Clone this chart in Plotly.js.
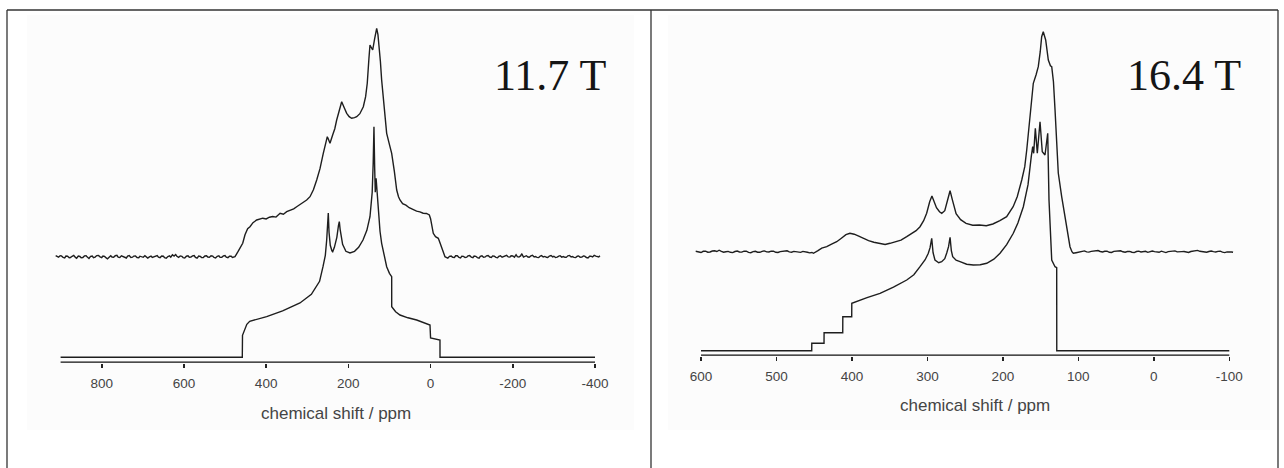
<!DOCTYPE html>
<html><head><meta charset="utf-8">
<script src="https://cdn.plot.ly/plotly-3.0.1.min.js"></script>
<style>html,body{margin:0;padding:0;background:#fff}#chart{width:1284px;height:468px}</style>
</head><body><div id="chart"></div>
<script>
// ---------------- DATA ----------------
// 11.7 T panel
const leftTicks = [800, 600, 400, 200, 0, -200, -400];
const leftSimPpm = [900,458,457.5,452,447,440,420,398.7,360,317.7,290,277,270,261.7,256,252.7,250.5,248.8,247,244,240,238,234,228,224,222,220,214,206,196,185,175,164.4,155,147.4,142,139.5,137.7,136,134.5,132.5,131,127,123,119,112,106.8,100,94.6,94.5,85,74.4,55,33.8,15,1.4,0,-22.9,-23,-400];
const leftSimInt = [0,0,22,28,33,36,38.5,40.6,46.5,54.3,63,70.6,76,90.6,102,117.3,135,144.3,125,112,106.5,105.6,110,120,132,135.6,128,113,106,104.3,106,110,117.3,127,140.6,165,195,230.6,190,165,179,170,145,126,114,100,90.6,84,80.6,50.6,45.5,42.3,39.5,37.3,34.5,32.3,19.3,17.3,0,0];
const leftExpPpm = [912,908,905,901,898,894,890,887,883,879,876,872,868,864,861,857,853,850,846,842,838,835,831,827,823,820,816,812,808,804,800,797,793,789,786,782,778,775,771,767,763,760,756,752,748,744,740,737,733,729,725,722,718,714,710,707,703,699,695,692,688,684,680,677,673,669,665,662,658,654,650,647,643,639,635,632,628,624,620,617,613,609,605,602,598,594,590,587,583,579,575,572,568,564,560,557,553,549,545,542,538,534,530,527,523,519,515,512,508,504,500,497,493,489,485,482,478,
  475.8,468.5,462,457,451.4,445,439.3,432,423,415,408,400,392,384,376,366,358,350,340,333,325.7,318,310,301.4,293.3,285,277,269,261,256,251.2,248,244.7,238,233,228.4,222,216.2,210,204,198,191.9,185,179.7,172,163.6,158,154,150,147.4,144,140.8,136,131.1,128,125.5,122,119,113,106.8,100,94.6,88,82.4,78,74.4,68,60,52,42,34,26,18,10,3,0,-3,-6.6,-12,-18.8,-22,-28,-35,
  -38,-42,-46,-50,-54,-58,-61,-65,-69,-73,-76,-80,-84,-88,-91,-95,-99,-103,-106,-110,-114,-118,-121,-125,-129,-133,-136,-140,-144,-148,-151,-155,-159,-163,-166,-170,-174,-178,-181,-185,-189,-193,-196,-200,-204,-208,-211,-215,-219,-222,-226,-230,-233,-237,-240,-244,-248,-252,-255,-259,-263,-267,-270,-274,-278,-282,-285,-289,-293,-297,-300,-304,-308,-312,-315,-319,-323,-327,-330,-334,-338,-342,-345,-349,-353,-357,-360,-364,-368,-372,-375,-379,-383,-387,-390,-394,-398,-402,-405,-409,-412];
const leftExpInt = [1,-0.3,-0.5,0.9,0.8,-0.6,-1.2,0.7,0.5,-1.0,-0.8,0.4,1.3,-0.7,-1.5,0.6,0.2,-1.1,-0.9,0.8,1.0,-0.4,-1.8,0.3,0.6,-0.9,-0.4,1.1,1.2,-0.2,-1.0,0.7,0.3,-1.2,-2.2,-0.5,0.9,-0.3,-0.6,1.0,1.4,-0.4,-0.8,0.9,0.4,-0.7,-1.3,0.5,1.1,-0.8,-0.5,0.6,0.7,-0.9,-1.1,0.5,0.2,-0.6,1.0,0.3,-1.4,-0.2,0.6,-0.8,-0.3,0.9,1.2,-0.4,-0.9,0.7,0.5,-1.0,-1.6,0.2,0.8,-0.5,1.9,0.6,2.2,0.4,-0.7,0.8,0.4,-0.9,-1.2,0.5,0.9,-0.6,-0.4,0.8,1.1,-0.7,-1.5,0.6,0.3,-0.9,-0.8,0.7,1.0,-0.3,-0.5,0.9,0.6,-0.8,-1.3,0.4,0.9,-0.7,-0.6,0.8,1.2,-0.4,-0.9,0.5,0.4,-0.8,-0.3,
  0,5,10,13.4,22,28,30,34,36.7,37.5,38.5,37.8,39.5,40.2,39.6,43.4,42.5,45,46.5,47.8,50,52,54.5,56.7,60,67,76.7,88,103.4,111,120,117,113.4,122,128,136.7,148,155,149,143.4,140,138.4,139,140,143,150,160,173.4,198,211.7,209,206.7,218,228.4,222,211.7,195,176.7,148,123.4,112,103.4,85,66.7,60,56.7,53,51.5,49,46.7,45.5,44.8,43.5,43.2,41.7,38,30,23.4,20,18.4,15,8,0,
  -0.6,-1.5,0.4,0.6,-0.7,-0.8,0.9,1.0,-0.6,-1.2,0.5,0.3,-0.8,-0.5,0.9,1.1,-0.4,-0.9,0.7,0.4,-0.9,-1.4,0.3,0.8,-0.6,-0.2,0.9,1.2,-0.3,-0.7,0.8,0.5,-0.6,-1.1,0.4,0.9,-0.5,0.1,1.0,1.3,-0.2,-0.4,0.9,0.7,-0.5,2.0,0.1,-0.3,0.8,3.0,-0.4,0.2,1.0,-0.3,-0.6,0.8,1.4,-0.2,0.2,-0.7,-0.9,0.6,1.1,-0.3,0.3,-0.6,-0.8,0.7,1.2,-0.2,0.4,-0.8,-0.5,0.6,1.0,-0.4,0.2,-0.6,-0.7,0.9,1.3,-0.3,0.1,-0.7,-0.9,0.5,0.8,-0.6,-0.4,0.7,0.6,-0.8,-1.2,0.4,0.5,-0.2,1.3,0.6,0.4,-0.3,1.0];

// 16.4 T panel
const rightTicks = [600, 500, 400, 300, 200, 100, 0, -100];
const rightSimPpm = [600,453.3,453.2,437,436.9,412.2,412.1,400.3,400.2,390,380,362.8,345,327.4,318,309.8,303,298.8,296.5,294.3,292.5,290,285,281.1,277,274.4,272,270,268.3,266.5,262,256.8,248,239.2,230,221.4,212,203.8,195,186.2,180,172.9,166.7,162.4,160.5,159.2,157,154.4,150.8,147.8,144.2,140.6,138.9,135.3,130.9,128.7,128.6,-100];
const rightSimInt = [0,0,7.4,7.4,18,18,34,34,47.4,50.5,53,57.4,63.5,70.7,76,84,91,97.4,103,112.4,98,90.7,88,89,92,97.7,104,113.4,100,94,90.5,89,86.5,85.7,86,87.4,91.5,97.4,106,117.4,128,144,166,194,204,197.4,222.4,197.4,229,199,195.7,217.4,150.7,90.7,84,83,0,0];
const rightExpPpm = [607,603,600,597,594,591,588,585,582,579,576,573,570,567,564,561,558,555,552,549,546,543,540,537,534,531,528,525,522,519,516,513,510,507,504,501,498,495,492,489,486,483,480,477,474,471,468,465,462,459,456,453,451,448,
  445,440,433.4,427,420.2,414,408,402.6,397,391,385,378,371,362.8,356,349.6,342,335,327.4,320,315,309.8,305,301,297,294,291,288,284,281,277,273,270,267,264,262,256,248.8,240,231,222,213.3,204,195,186.4,181,175,171,168.4,165,161.8,159.7,156,153.1,150.5,148.6,146.5,143.3,139.8,137,135.3,133,130.9,128.8,126.6,122.1,120,117.8,115.5,113,111.1,108.5,106.7,103,100,97.8,
  95,92,89,86,83,80,77,74,71,68,65,62,59,56,53,50,47,44,41,38,35,32,29,26,23,20,17,14,11,8,5,2,-1,-4,-7,-10,-13,-16,-19,-22,-25,-28,-31,-34,-37,-40,-43,-46,-49,-52,-55,-58,-61,-64,-67,-70,-73,-76,-79,-82,-85,-88,-91,-94,-97,-100,-103,-105];
const rightExpInt = [0.5,-0.2,-0.8,0.4,0.6,-0.5,-0.3,0.7,0.9,0.2,1.5,0.3,-0.5,-0.1,0.3,-0.6,-0.9,0.2,0.7,-0.3,-0.4,0.6,0.5,-0.7,-1.0,0.1,0.4,-0.5,-0.6,0.4,0.8,-0.2,-0.3,0.5,0.6,-0.6,-0.8,0.1,0.3,0.6,0.9,-0.2,-0.5,0.3,0.2,-0.4,-0.7,0.3,0.1,-0.6,-1.2,-0.8,-1.6,-0.5,
  1.0,3.5,5,7.5,10,13.5,17,18.4,17.5,15.5,13.4,11,9.5,8.4,7.2,8.4,10,11.5,15,18.5,21,25,31,38.4,50,55.7,50,44,40,38.4,41,52,61,52,43,38,32,28.4,26.5,26.7,26,27.7,31,35,45,55,71.7,85,101.7,128,151.7,168.4,177,185,200,215,220,211.7,191.7,186,185,170,141.7,110,78.7,55,45,35,25,14,5,0,-1.6,-1.0,-0.3,0,
  0.6,0.8,-0.2,-0.4,0.3,0.6,0.9,1.2,0.2,-0.3,0.4,0.5,-0.6,-0.8,0.3,0.4,0.6,0.9,-0.1,-0.5,0.2,0.3,-0.5,-0.9,0.2,0.6,-0.3,0.1,0.4,-0.6,-0.2,0.7,0.1,-0.2,-0.6,0.5,-0.3,-0.9,0.1,0.4,0.6,0.8,-0.2,-0.4,0.1,0.2,-0.5,-0.8,0.2,0.6,0.9,1.3,0.4,0.2,-0.3,-0.5,0.2,0.7,0.1,-0.3,0.3,0.5,-0.4,-0.9,-0.2,0.1,-0.3,-0.6];

const xTitle = "chemical shift / ppm";
const leftLabel = "11.7 T";
const rightLabel = "16.4 T";

// ---------------- LAYOUT GEOMETRY ----------------
const W = 1284, H = 468;
const fx = p => p / W, fy = p => 1 - p / H;
const lin = (p0, v0, p1, v1) => p => v0 + (p - p0) * (v1 - v0) / (p1 - p0);
const leftPpmAt = lin(60.6, 900, 595, -400);
const rightPpmAt = lin(701, 600, 1229.3, -100);
const LD = [50, 608], RD = [690, 1245];
const LAX = 362.7, RAX = 355.7;           // pixel rows of the axis lines
const L_SIM = 5.4, L_EXP = 106;           // vertical offsets (stacking)
const R_SIM = 5, R_EXP = 104;

const add = (arr, o) => arr.map(v => v + o);
const lineStyle = {color: '#1e1e1e', width: 1.4};

const traces = [
  {x: leftExpPpm, y: add(leftExpInt, L_EXP), xaxis: 'x', yaxis: 'y', mode: 'lines', line: lineStyle, hoverinfo: 'skip'},
  {x: leftSimPpm, y: add(leftSimInt, L_SIM), xaxis: 'x', yaxis: 'y', mode: 'lines', line: lineStyle, hoverinfo: 'skip'},
  {x: rightExpPpm, y: add(rightExpInt, R_EXP), xaxis: 'x2', yaxis: 'y2', mode: 'lines', line: lineStyle, hoverinfo: 'skip'},
  {x: rightSimPpm, y: add(rightSimInt, R_SIM), xaxis: 'x2', yaxis: 'y2', mode: 'lines', line: lineStyle, hoverinfo: 'skip'}
];

const tickFont = {family: 'Liberation Sans, Arial, sans-serif', size: 13.5, color: '#444'};
const xCommon = {ticks: 'outside', ticklen: 4, tickwidth: 1.6, tickcolor: '#222', showline: false, zeroline: false,
  showgrid: false, tickfont: tickFont, tickmode: 'array', fixedrange: true, ticklabelstandoff: 4};

const layout = {
  width: W, height: H, margin: {l: 0, r: 0, t: 0, b: 0},
  paper_bgcolor: '#ffffff', plot_bgcolor: 'rgba(0,0,0,0)', showlegend: false,
  xaxis: Object.assign({}, xCommon, {domain: [fx(LD[0]), fx(LD[1])], range: [leftPpmAt(LD[0]), leftPpmAt(LD[1])], anchor: 'y',
    tickvals: leftTicks, ticktext: leftTicks.map(String)}),
  yaxis: {domain: [fy(LAX), 1], range: [0, LAX], visible: false, fixedrange: true},
  xaxis2: Object.assign({}, xCommon, {domain: [fx(RD[0]), fx(RD[1])], range: [rightPpmAt(RD[0]), rightPpmAt(RD[1])], anchor: 'y2',
    tickvals: rightTicks, ticktext: rightTicks.map(String)}),
  yaxis2: {domain: [fy(RAX), 1], range: [0, RAX], visible: false, fixedrange: true},
  shapes: [
    {type: 'rect', xref: 'paper', yref: 'paper', x0: fx(27), x1: fx(634), y0: fy(430), y1: fy(15), fillcolor: '#fcfcfc', line: {width: 0}, layer: 'below'},
    {type: 'rect', xref: 'paper', yref: 'paper', x0: fx(668), x1: fx(1270), y0: fy(430), y1: fy(15), fillcolor: '#fcfcfc', line: {width: 0}, layer: 'below'},
    {type: 'line', xref: 'x', yref: 'y', x0: leftTicks[0] + 100, x1: leftTicks[leftTicks.length - 1], y0: 0, y1: 0, line: {color: '#111', width: 2.6}},
    {type: 'line', xref: 'x2', yref: 'y2', x0: rightTicks[0], x1: rightTicks[rightTicks.length - 1], y0: 0, y1: 0, line: {color: '#111', width: 2.6}},
    {type: 'line', xref: 'paper', yref: 'paper', x0: fx(7), x1: fx(1278), y0: fy(10), y1: fy(10), line: {color: '#333', width: 1.3}},
    {type: 'line', xref: 'paper', yref: 'paper', x0: fx(7), x1: fx(7), y0: fy(10), y1: fy(470), line: {color: '#333', width: 1.3}},
    {type: 'line', xref: 'paper', yref: 'paper', x0: fx(651), x1: fx(651), y0: fy(10), y1: fy(470), line: {color: '#333', width: 1.3}},
    {type: 'line', xref: 'paper', yref: 'paper', x0: fx(1278), x1: fx(1278), y0: fy(10), y1: fy(470), line: {color: '#333', width: 1.3}}
  ],
  annotations: [
    {text: xTitle, xref: 'paper', yref: 'paper', x: fx(336), y: fy(413), xanchor: 'center', yanchor: 'middle', showarrow: false,
      font: {family: 'Liberation Sans, Arial, sans-serif', size: 17, color: '#444'}},
    {text: xTitle, xref: 'paper', yref: 'paper', x: fx(975), y: fy(405), xanchor: 'center', yanchor: 'middle', showarrow: false,
      font: {family: 'Liberation Sans, Arial, sans-serif', size: 17, color: '#444'}},
    {text: leftLabel, xref: 'paper', yref: 'paper', x: fx(609), y: fy(76), xanchor: 'right', yanchor: 'middle', showarrow: false,
      font: {family: 'Liberation Serif, Times New Roman, serif', size: 44, color: '#151515'}},
    {text: rightLabel, xref: 'paper', yref: 'paper', x: fx(1243), y: fy(76), xanchor: 'right', yanchor: 'middle', showarrow: false,
      font: {family: 'Liberation Serif, Times New Roman, serif', size: 44, color: '#151515'}}
  ]
};

Plotly.newPlot('chart', traces, layout, {displayModeBar: false, staticPlot: true});
</script></body></html>
